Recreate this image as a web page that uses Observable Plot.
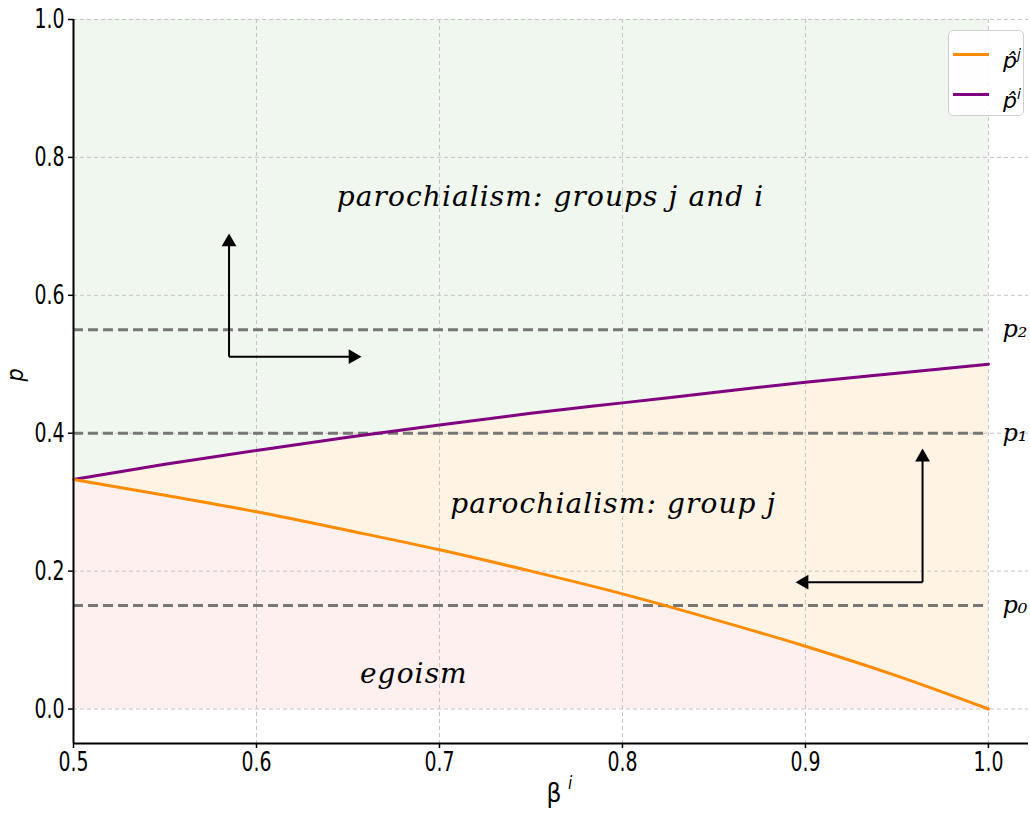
<!DOCTYPE html>
<html>
<head>
<meta charset="utf-8">
<script src="https://cdn.jsdelivr.net/npm/d3@7"></script>
<script src="https://cdn.jsdelivr.net/npm/@observablehq/plot@0.6"></script>
<style>
  html, body { margin: 0; padding: 0; background: white; }
  #wrap { position: relative; width: 1030px; height: 815px; }
  #legend {
    position: absolute; left: 948px; top: 30px; width: 76px; height: 86px;
    box-sizing: border-box; border: 1px solid #d0d0d0; border-radius: 5px;
    background: rgba(255,255,255,0.85); font-family: "DejaVu Sans", sans-serif;
  }
  .row { position: absolute; left: 4px; height: 30px; width: 70px; }
  .sw { position: absolute; left: 0; top: 14px; width: 36px; height: 3px; }
  .lab { position: absolute; left: 50px; top: 0px; font-size: 22px; font-style: italic; line-height: 30px; }
  .lab sup { font-size: 14px; vertical-align: 9px; }
</style>
</head>
<body>
<div id="wrap"></div>
<script>
// ---- data ----
const beta  = [0.50, 0.55, 0.60, 0.65, 0.70, 0.75, 0.80, 0.85, 0.90, 0.95, 1.00];
const pHatJ = [0.333, 0.310, 0.286, 0.259, 0.231, 0.200, 0.167, 0.130, 0.091, 0.048, 0.000]; // orange
const pHatI = [0.333, 0.355, 0.375, 0.394, 0.412, 0.429, 0.444, 0.459, 0.474, 0.487, 0.500]; // purple
const pLevels = [0.15, 0.40, 0.55];
const pLevelLabels = ["p\u2080", "p\u2081", "p\u2082"];
const xTicks = [0.5, 0.6, 0.7, 0.8, 0.9, 1.0];
const yTicks = [0.0, 0.2, 0.4, 0.6, 0.8, 1.0];
const regionLabels = ["parochialism: groups j and i", "parochialism: group j", "egoism"];
const regionX = [0.7607, 0.795, 0.686];
const regionY = [0.742, 0.298, 0.051];
// arrows: [x1, y1, x2, y2] (tail -> head)
const arrowSegs = [
  [0.585, 0.511, 0.585, 0.686],
  [0.585, 0.511, 0.656, 0.511],
  [0.964, 0.184, 0.964, 0.374],
  [0.964, 0.184, 0.896, 0.184]
];
const arrowDirs = ["up", "right", "up", "left"];

const rows = beta.map((b, i) => ({b, j: pHatJ[i], i2: pHatI[i]}));
const arrows = arrowSegs.map((s, k) => ({x1: s[0], y1: s[1], x2: s[2], y2: s[3], dir: arrowDirs[k]}));
const rot = {up: 0, right: 90, left: -90};
const off = {up: [0, 6], right: [-6, 0], left: [6, 0]};

const serif = "'DejaVu Serif', serif";

const chart = Plot.plot({
  width: 1030, height: 815,
  marginLeft: 73, marginRight: 2, marginTop: 19, marginBottom: 72,
  x: {domain: [0.5, 1.0219]},
  y: {domain: [-0.05, 1.0]},
  style: {background: "white", fontFamily: "'DejaVu Sans Condensed', 'DejaVu Sans', sans-serif", fontSize: "21px", overflow: "visible"},
  marks: [
    Plot.areaY(rows, {x: "b", y1: "i2", y2: () => 1.0, fill: "#f0f7ee", curve: "monotone-x"}),
    Plot.areaY(rows, {x: "b", y1: "j", y2: "i2", fill: "#fff3e3", curve: "monotone-x"}),
    Plot.areaY(rows, {x: "b", y1: () => 0, y2: "j", fill: "#fff0f0", curve: "monotone-x"}),
    Plot.gridX(xTicks, {stroke: "#c4c4c4", strokeOpacity: 1, strokeDasharray: "4,3"}),
    Plot.gridY(yTicks, {stroke: "#c4c4c4", strokeOpacity: 1, strokeDasharray: "4,3"}),
    Plot.ruleY(pLevels, {x1: 0.5, x2: 1.0, stroke: "#777", strokeWidth: 3, strokeDasharray: "10,5"}),
    Plot.line(rows, {x: "b", y: "i2", stroke: "#800080", strokeWidth: 3, curve: "monotone-x"}),
    Plot.line(rows, {x: "b", y: "j", stroke: "#ff8c00", strokeWidth: 3, curve: "monotone-x"}),
    Plot.link(arrows, {x1: "x1", y1: "y1", x2: "x2", y2: "y2", stroke: "black", strokeWidth: 2}),
    ...arrowDirs.map((d, k) => Plot.dot([arrows[k]], {
      x: "x2", y: "y2", symbol: "triangle", r: 5.5, fill: "black", stroke: "none",
      rotate: rot[d], dx: off[d][0], dy: off[d][1]
    })),
    Plot.text(regionLabels, {x: (d, i) => regionX[i], y: (d, i) => regionY[i], text: d => d,
      fontFamily: serif, fontStyle: "italic", fontSize: 28, fill: "black"}),
    Plot.text(pLevels, {x: () => 1.0, y: d => d, text: (d, i) => pLevelLabels[i], dx: 14,
      textAnchor: "start", fontFamily: serif, fontStyle: "italic", fontSize: 24, fill: "black"}),
    Plot.ruleY([-0.05], {stroke: "black", strokeWidth: 2}),
    Plot.ruleX([0.5], {stroke: "black", strokeWidth: 2}),
    Plot.axisX(xTicks, {tickSize: 5, tickPadding: 3, tickFormat: d3.format(".1f"), label: null, fontSize: 21, strokeWidth: 1.5}),
    Plot.axisY(yTicks, {tickSize: 5, tickPadding: 4, tickFormat: d3.format(".1f"), label: null, fontSize: 21, strokeWidth: 1.5}),
    Plot.text(["p"], {frameAnchor: "left", dx: -58, rotate: -90, fontStyle: "italic", fontSize: 23, fill: "black"}),
    Plot.text(["\u03B2"], {frameAnchor: "bottom", dx: 3, dy: 58, fontSize: 26, fill: "black"}),
    Plot.text(["i"], {frameAnchor: "bottom", dx: 19, dy: 45, fontSize: 17, fontStyle: "italic", fill: "black"})
  ]
});

// stretch tick labels vertically like the reference
chart.querySelectorAll('g[aria-label="x-axis tick label"] text, g[aria-label="y-axis tick label"] text').forEach(t => {
  let tr = t.getAttribute("transform");
  if (!tr) {
    const x = t.getAttribute("x") || 0, y = t.getAttribute("y") || 0;
    t.removeAttribute("x"); t.removeAttribute("y");
    tr = `translate(${x},${y})`;
  }
  t.setAttribute("transform", tr + " scale(1,1.3)");
});
// widen the region labels' letter spacing (Cambria-like width)
chart.querySelectorAll('text').forEach(t => {
  if (regionLabels.includes(t.textContent)) t.setAttribute("letter-spacing", "1.1");
});

const wrap = document.getElementById("wrap");
wrap.appendChild(chart);
const legend = document.createElement("div");
legend.id = "legend";
legend.innerHTML =
  '<div class="row" style="top:8px"><div class="sw" style="background:#ff8c00"></div><div class="lab">p\u0302<sup>j</sup></div></div>' +
  '<div class="row" style="top:48px"><div class="sw" style="background:#800080"></div><div class="lab">p\u0302<sup>i</sup></div></div>';
wrap.appendChild(legend);
</script>
</body>
</html>
